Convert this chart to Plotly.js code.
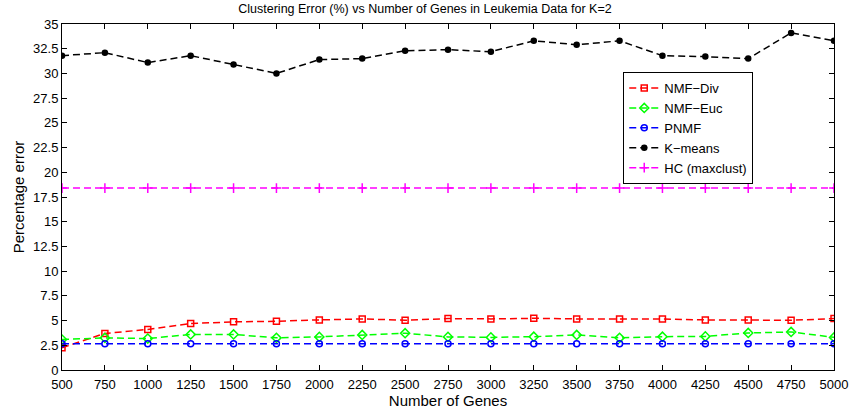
<!DOCTYPE html>
<html><head><meta charset="utf-8">
<script src="https://cdn.plot.ly/plotly-3.0.1.min.js"></script>
<style>html,body{margin:0;padding:0;background:#fff}#chart{width:850px;height:409px}</style>
</head><body><div id="chart"></div>
<script>
const genes = [500,750,1000,1250,1500,1750,2000,2250,2500,2750,3000,3250,3500,3750,4000,4250,4500,4750,5000];
const nmfDiv = [2.25,3.7,4.1,4.7,4.87,4.93,5.07,5.17,5.03,5.2,5.17,5.23,5.17,5.17,5.15,5.07,5.07,5.03,5.2];
const nmfEuc = [3.08,3.25,3.18,3.6,3.6,3.25,3.35,3.55,3.72,3.35,3.3,3.37,3.55,3.25,3.37,3.4,3.75,3.85,3.3];
const pnmf = [2.65,2.65,2.65,2.65,2.65,2.65,2.65,2.65,2.65,2.65,2.65,2.65,2.65,2.65,2.65,2.65,2.65,2.65,2.65];
const kmeans = [31.8,32.1,31.1,31.8,30.9,30.0,31.4,31.5,32.3,32.4,32.2,33.3,32.9,33.3,31.8,31.7,31.5,34.1,33.3];
const hc = [18.4,18.4,18.4,18.4,18.4,18.4,18.4,18.4,18.4,18.4,18.4,18.4,18.4,18.4,18.4,18.4,18.4,18.4,18.4];
const yTicks = [0,2.5,5,7.5,10,12.5,15,17.5,20,22.5,25,27.5,30,32.5,35];
const yTickText = ['0','2.5','5','7.5','10','12.5','15','17.5','20','22.5','25','27.5','30','32.5','35'];

function tr(name, y, color, symbol, size) {
  return {x: genes, y: y, name: name, type: 'scatter', mode: 'lines+markers',
    line: {color: color, width: 1.5, dash: '7px,4px'},
    marker: {symbol: symbol, size: size, color: color, line: {color: color, width: 1.5}}};
}
const data = [
  tr('NMF\u2212Div', nmfDiv, '#ff0000', 'square-open', 6),
  tr('NMF\u2212Euc', nmfEuc, '#00ff00', 'diamond-open', 7),
  tr('PNMF', pnmf, '#0000ff', 'circle-open', 6),
  tr('K\u2212means', kmeans, '#000000', 'circle', 5),
  tr('HC (maxclust)', hc, '#ff00ff', 'cross-thin-open', 7)
];
const font = {family: 'Liberation Sans, Arial, sans-serif', color: '#000'};
const layout = {
  width: 850, height: 409,
  margin: {l: 62, r: 16, t: 24, b: 39},
  paper_bgcolor: '#fff', plot_bgcolor: '#fff',
  font: Object.assign({size: 12}, font),
  title: {text: 'Clustering Error (%) vs Number of Genes in Leukemia Data for K=2', font: Object.assign({size: 12.5}, font), x: 0.5, xanchor: 'center', y: 0.99, yanchor: 'top'},
  xaxis: {range: [500, 5000], tickvals: genes, ticktext: genes.map(String), ticks: 'inside', ticklen: 5, tickcolor: '#000',
    showline: true, linecolor: '#000', linewidth: 1, mirror: 'ticks', showgrid: false, zeroline: false,
    tickfont: Object.assign({size: 13}, font), ticklabelstandoff: 2,
    title: {text: 'Number of Genes', font: Object.assign({size: 15}, font), standoff: 0}},
  yaxis: {range: [0, 35], tickvals: yTicks, ticktext: yTickText, ticks: 'inside', ticklen: 5, tickcolor: '#000',
    showline: true, linecolor: '#000', linewidth: 1, mirror: 'ticks', showgrid: false, zeroline: false,
    tickfont: Object.assign({size: 13}, font),
    title: {text: 'Percentage error', font: Object.assign({size: 15}, font), standoff: 4}},
  legend: {x: 0.727, y: 0.861, xanchor: 'left', yanchor: 'top', bgcolor: '#fff', bordercolor: '#000', borderwidth: 1,
    font: Object.assign({size: 13}, font), tracegroupgap: 0, itemwidth: 30},
  showlegend: true
};
Plotly.newPlot('chart', data, layout, {displayModeBar: false, staticPlot: true});
</script></body></html>
